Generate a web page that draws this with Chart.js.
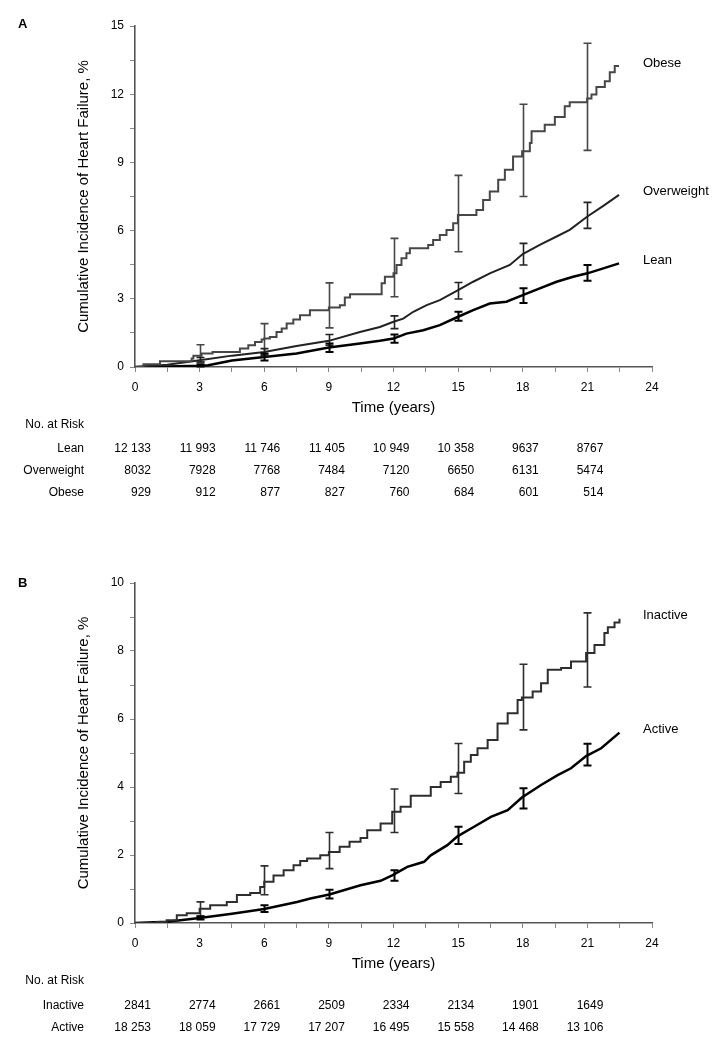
<!DOCTYPE html>
<html>
<head>
<meta charset="utf-8">
<script src="https://cdn.jsdelivr.net/npm/chart.js@4.4.0/dist/chart.umd.min.js"></script>
<style>
  body { margin: 0; background: #fff; }
  canvas { position: absolute; left: 0; }
</style>
</head>
<body>
<canvas id="chartA" width="717" height="530" style="top:0px"></canvas>
<canvas id="chartB" width="717" height="520" style="top:530px"></canvas>
<script>
// ---- values ----
const riskTimes = [0, 3, 6, 9, 12, 15, 18, 21];
const ebTimes = [3, 6, 9, 12, 15, 18, 21];

// panel A: BMI groups
const obeseT = [0, 0.39, 1.16, 2.63, 2.71, 3.09, 3.6, 4.87, 5.26, 5.57, 5.88, 6.0, 6.26, 6.57, 6.81, 7.04, 7.35, 7.66, 8.12, 9.0, 9.51, 9.74, 9.98, 11.45, 11.6, 12.0, 12.14, 12.37, 12.6, 12.76, 13.61, 13.84, 14.15, 14.46, 14.77, 14.99, 15.85, 16.16, 16.47, 16.86, 17.17, 17.55, 17.97, 18.33, 18.41, 19.02, 19.49, 19.95, 20.18, 20.99, 21.19, 21.42, 21.81, 22.04, 22.27, 22.47];
const obeseV = [0, 0.12, 0.25, 0.37, 0.49, 0.59, 0.66, 0.81, 0.96, 1.10, 1.21, 1.25, 1.32, 1.54, 1.69, 1.91, 2.09, 2.28, 2.5, 2.62, 2.72, 3.06, 3.2, 3.68, 3.97, 4.12, 4.49, 4.78, 5.0, 5.22, 5.37, 5.59, 5.81, 6.03, 6.32, 6.69, 6.91, 7.35, 7.72, 8.24, 8.68, 9.26, 9.49, 9.85, 10.37, 10.66, 11.0, 11.47, 11.65, 11.81, 11.99, 12.32, 12.57, 12.97, 13.24, 13.24];
const overT = [0, 1.5, 3, 4.5, 6, 7.5, 9, 10.44, 11.37, 12, 12.45, 12.92, 13.54, 14.15, 15, 15.7, 16.47, 17.4, 18, 18.79, 19.57, 20.18, 21, 21.74, 22.47];
const overV = [0, 0.1, 0.3, 0.5, 0.66, 0.92, 1.15, 1.54, 1.76, 1.99, 2.13, 2.43, 2.72, 2.94, 3.38, 3.75, 4.12, 4.49, 4.97, 5.37, 5.74, 6.03, 6.62, 7.09, 7.57];
const leanT = [0, 1.5, 3, 3.4, 4.5, 6, 7.5, 9, 10.44, 11.37, 12, 12.6, 13.38, 14.15, 15, 15.7, 16.47, 17.24, 18, 18.79, 19.57, 20.34, 21, 21.74, 22.47];
const leanV = [0, 0.02, 0.05, 0.08, 0.29, 0.44, 0.59, 0.86, 1.03, 1.15, 1.25, 1.47, 1.62, 1.84, 2.21, 2.5, 2.79, 2.87, 3.16, 3.46, 3.75, 3.97, 4.12, 4.34, 4.56];

const obeseLo = [0.22, 0.54, 1.72, 3.09, 5.07, 7.5, 9.53];
const obeseHi = [0.98, 1.91, 3.7, 5.66, 8.43, 11.56, 14.24];
const overLo = [0.22, 0.49, 0.96, 1.69, 2.99, 4.49, 6.1];
const overHi = [0.42, 0.81, 1.43, 2.25, 3.72, 5.44, 7.24];
const leanLo = [0.02, 0.29, 0.66, 1.07, 2.03, 2.82, 3.79];
const leanHi = [0.12, 0.59, 1.03, 1.43, 2.43, 3.46, 4.49];

const leanRisk = [12133, 11993, 11746, 11405, 10949, 10358, 9637, 8767];
const overRisk = [8032, 7928, 7768, 7484, 7120, 6650, 6131, 5474];
const obeseRisk = [929, 912, 877, 827, 760, 684, 601, 514];

// panel B: physical activity
const inactT = [0, 1.0, 1.47, 1.94, 2.4, 3.0, 3.49, 4.26, 4.73, 5.35, 5.81, 6.0, 6.43, 6.9, 7.36, 7.67, 7.99, 8.6, 9.0, 9.5, 9.96, 10.47, 10.78, 11.4, 11.94, 12.33, 12.8, 13.73, 14.19, 14.66, 14.97, 15.28, 15.59, 15.9, 16.37, 16.83, 17.3, 17.76, 17.96, 18.46, 18.85, 19.16, 19.78, 20.24, 20.94, 21.33, 21.79, 21.95, 22.26, 22.49];
const inactV = [0, 0.03, 0.08, 0.23, 0.29, 0.42, 0.52, 0.62, 0.82, 0.88, 1.06, 1.21, 1.40, 1.55, 1.70, 1.82, 1.9, 1.99, 2.09, 2.24, 2.39, 2.5, 2.73, 2.93, 3.27, 3.42, 3.74, 4.0, 4.15, 4.3, 4.42, 4.74, 4.94, 5.14, 5.38, 5.87, 6.17, 6.56, 6.63, 6.81, 7.05, 7.45, 7.5, 7.69, 7.94, 8.18, 8.53, 8.7, 8.84, 8.95];
const activeT = [0, 1.5, 3, 4.5, 6, 7.52, 8.14, 9.02, 10.47, 11.4, 11.94, 12.64, 13.42, 13.73, 14.5, 14.97, 15.74, 16.52, 17.3, 17.96, 18.85, 19.62, 20.24, 20.94, 21.64, 22.49];
const activeV = [0, 0.04, 0.15, 0.27, 0.41, 0.62, 0.72, 0.84, 1.11, 1.24, 1.40, 1.65, 1.80, 1.99, 2.29, 2.55, 2.83, 3.12, 3.32, 3.69, 4.06, 4.35, 4.55, 4.91, 5.14, 5.6];

const inactLo = [0.2, 0.83, 1.6, 2.66, 3.81, 5.68, 6.94];
const inactHi = [0.62, 1.68, 2.66, 3.94, 5.28, 7.61, 9.12];
const activeLo = [0.1, 0.32, 0.72, 1.24, 2.32, 3.37, 4.63];
const activeHi = [0.2, 0.52, 0.98, 1.55, 2.83, 3.96, 5.27];

const inactRisk = [2841, 2774, 2661, 2509, 2334, 2134, 1901, 1649];
const activeRisk = [18253, 18059, 17729, 17207, 16495, 15558, 14468, 13106];

// ---- drawing ----
const FONT = '"Liberation Sans", Arial, sans-serif';
Chart.defaults.font.family = FONT;
Chart.defaults.color = '#000';

function pts(ts, vs) {
  return ts.map((t, i) => ({ x: t, y: vs[i] }));
}

function fmt(n) {
  return n >= 10000 ? String(n).replace(/\B(?=(\d{3})+(?!\d))/g, ' ') : String(n);
}

const extras = {
  id: 'extras',
  afterDatasetsDraw(chart) {
    const { ctx } = chart;
    const x = chart.scales.x, y = chart.scales.y;
    chart.data.datasets.forEach(ds => {
      ctx.save();
      ctx.strokeStyle = ds.borderColor;
      ctx.lineWidth = ds.barWidth;
      ebTimes.forEach((t, i) => {
        const px = Math.round(x.getPixelForValue(t)) + 0.5;
        const y1 = y.getPixelForValue(ds.lo[i]);
        const y2 = y.getPixelForValue(ds.hi[i]);
        ctx.beginPath();
        ctx.moveTo(px, y1); ctx.lineTo(px, y2);
        ctx.moveTo(px - 4, y1); ctx.lineTo(px + 4, y1);
        ctx.moveTo(px - 4, y2); ctx.lineTo(px + 4, y2);
        ctx.stroke();
      });
      const last = ds.data[ds.data.length - 1];
      ctx.fillStyle = '#000';
      ctx.font = '13px ' + FONT;
      ctx.textBaseline = 'middle';
      ctx.textAlign = 'left';
      ctx.fillText(ds.label, x.right - 9, y.getPixelForValue(last.y) - 3);
      ctx.restore();
    });
  },
  afterDraw(chart, args, opts) {
    const { ctx } = chart;
    const x = chart.scales.x;
    ctx.save();
    ctx.fillStyle = '#000';
    ctx.font = 'bold 13px ' + FONT;
    ctx.textBaseline = 'middle';
    ctx.textAlign = 'left';
    ctx.fillText(opts.letter, 18, opts.letterY);

    ctx.font = '12px ' + FONT;
    ctx.textAlign = 'right';
    ctx.fillText('No. at Risk', 84, opts.headY);
    opts.rows.forEach((row, r) => {
      const ry = opts.rowY[r];
      ctx.fillText(row[0], 84, ry);
      row[1].forEach((n, i) => {
        ctx.fillText(fmt(n), x.getPixelForValue(riskTimes[i]) + 16, ry);
      });
    });
    ctx.restore();
  }
};

function makePanel(id, datasets, yMax, yStep, yLabelEvery, layout, tableOpts) {
  new Chart(document.getElementById(id), {
    type: 'line',
    data: { datasets: datasets },
    options: {
      responsive: false,
      animation: false,
      layout: { padding: layout },
      plugins: { legend: { display: false }, tooltip: { enabled: false }, extras: tableOpts },
      elements: { point: { radius: 0 }, line: { tension: 0 } },
      scales: {
        x: {
          type: 'linear',
          min: 0, max: 24,
          afterFit: s => { s.height = 50; },
          ticks: {
            stepSize: 1.5, autoSkip: false, maxRotation: 0, padding: 8,
            font: { size: 12 },
            callback: v => (v % 3 === 0 ? v : '')
          },
          grid: { drawOnChartArea: false, tickLength: 5, color: '#888' },
          border: { color: '#555', width: 1.6 },
          title: { display: true, text: 'Time (years)', font: { size: 15 }, padding: { top: 0, bottom: 0 } }
        },
        y: {
          min: 0, max: yMax,
          afterFit: s => { s.width = 135; },
          ticks: {
            stepSize: yStep, autoSkip: false, padding: 6,
            font: { size: 12 },
            callback: v => (Math.abs(v / yLabelEvery - Math.round(v / yLabelEvery)) < 1e-6 ? v : '')
          },
          grid: { drawOnChartArea: false, tickLength: 5, color: '#888' },
          border: { color: '#555', width: 1.6 },
          title: {
            display: true, text: 'Cumulative Incidence of Heart Failure, %',
            font: { size: 15 }, padding: { top: 75, bottom: 0 }
          }
        }
      }
    },
    plugins: [extras]
  });
}

makePanel('chartA', [
  { label: 'Obese', data: pts(obeseT, obeseV), stepped: true, borderColor: '#474747', borderWidth: 2, barWidth: 1.6, lo: obeseLo, hi: obeseHi },
  { label: 'Overweight', data: pts(overT, overV), borderColor: '#222', borderWidth: 2, barWidth: 1.6, lo: overLo, hi: overHi },
  { label: 'Lean', data: pts(leanT, leanV), borderColor: '#000', borderWidth: 2.5, barWidth: 2, lo: leanLo, hi: leanHi }
], 15, 1.5, 3, { top: 26, left: 0, right: 65, bottom: 113 }, {
  letter: 'A', letterY: 24, headY: 425, rowY: [449, 471, 493],
  rows: [['Lean', leanRisk], ['Overweight', overRisk], ['Obese', obeseRisk]]
});

makePanel('chartB', [
  { label: 'Inactive', data: pts(inactT, inactV), stepped: true, borderColor: '#2e2e2e', borderWidth: 2, barWidth: 1.6, lo: inactLo, hi: inactHi },
  { label: 'Active', data: pts(activeT, activeV), borderColor: '#000', borderWidth: 2.5, barWidth: 2, lo: activeLo, hi: activeHi }
], 10, 1, 2, { top: 53, left: 0, right: 65, bottom: 77 }, {
  letter: 'B', letterY: 53, headY: 451, rowY: [476, 498],
  rows: [['Inactive', inactRisk], ['Active', activeRisk]]
});
</script>
</body>
</html>
